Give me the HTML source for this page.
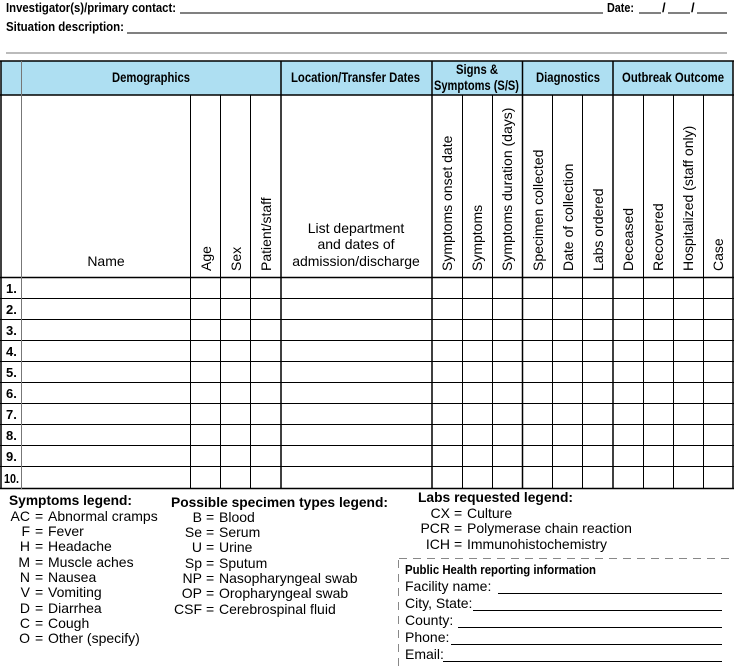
<!DOCTYPE html>
<html><head><meta charset="utf-8"><style>
html,body{margin:0;padding:0;background:#fff;}
svg{display:block;font-family:"Liberation Sans",Arial,sans-serif;}
.b{font-weight:bold;font-size:13px;}
.h{font-weight:bold;font-size:14px;}
.r{font-size:14px;}
.l{font-size:14px;}
.lh{font-weight:bold;font-size:14px;}
</style></head><body>
<svg width="734" height="667" viewBox="0 0 734 667" xmlns="http://www.w3.org/2000/svg">
<!-- top fields -->
<text x="6" y="12" class="b" font-size="14" textLength="170" lengthAdjust="spacingAndGlyphs">Investigator(s)/primary contact:</text>
<line x1="180" y1="13" x2="603" y2="13" stroke="#000" stroke-width="1"/>
<text x="607" y="12" class="b" font-size="14" textLength="27" lengthAdjust="spacingAndGlyphs">Date:</text>
<line x1="639" y1="13" x2="661" y2="13" stroke="#000"/><text x="662" y="12" class="b">/</text>
<line x1="668" y1="13" x2="690" y2="13" stroke="#000"/><text x="691" y="12" class="b">/</text>
<line x1="697" y1="13" x2="727" y2="13" stroke="#000"/>
<text x="6" y="31" class="b" font-size="14" textLength="118" lengthAdjust="spacingAndGlyphs">Situation description:</text>
<line x1="127" y1="33" x2="727" y2="33" stroke="#000"/>
<line x1="6" y1="53" x2="727" y2="53" stroke="#777"/>

<!-- header band -->
<rect x="1" y="61" width="732" height="34" fill="#aedff2"/>
<g class="h">
<text x="112" y="82" textLength="78" lengthAdjust="spacingAndGlyphs">Demographics</text>
<text x="291" y="82" textLength="129" lengthAdjust="spacingAndGlyphs">Location/Transfer Dates</text>
<text x="456" y="74" textLength="42" lengthAdjust="spacingAndGlyphs">Signs &amp;</text>
<text x="434" y="90" textLength="85" lengthAdjust="spacingAndGlyphs">Symptoms (S/S)</text>
<text x="536" y="82" textLength="64" lengthAdjust="spacingAndGlyphs">Diagnostics</text>
<text x="622" y="82" textLength="102" lengthAdjust="spacingAndGlyphs">Outbreak Outcome</text>
</g>

<!-- horizontal lines -->
<g stroke="#000">
<line x1="0" y1="61" x2="734" y2="61" stroke-width="1.5"/>
<line x1="0" y1="95" x2="734" y2="95" stroke-width="1.5"/>
<line x1="0" y1="277.5" x2="734" y2="277.5" stroke-width="1.5"/>
<line x1="0" y1="298.5" x2="734" y2="298.5"/>
<line x1="0" y1="319.5" x2="734" y2="319.5"/>
<line x1="0" y1="340.5" x2="734" y2="340.5"/>
<line x1="0" y1="361.5" x2="734" y2="361.5"/>
<line x1="0" y1="382.5" x2="734" y2="382.5"/>
<line x1="0" y1="403.5" x2="734" y2="403.5"/>
<line x1="0" y1="424.5" x2="734" y2="424.5"/>
<line x1="0" y1="445.5" x2="734" y2="445.5"/>
<line x1="0" y1="466.5" x2="734" y2="466.5"/>
<line x1="0" y1="488.5" x2="734" y2="488.5" stroke-width="1.5"/>
</g>
<!-- vertical lines -->
<g stroke="#000">
<line x1="1" y1="61" x2="1" y2="489" stroke-width="1.5"/>
<line x1="21.5" y1="61" x2="21.5" y2="489" stroke="#777"/>
<line x1="190.5" y1="95" x2="190.5" y2="489"/>
<line x1="220.5" y1="95" x2="220.5" y2="489"/>
<line x1="250.5" y1="95" x2="250.5" y2="489"/>
<line x1="281" y1="61" x2="281" y2="489" stroke-width="1.5"/>
<line x1="432" y1="61" x2="432" y2="489" stroke-width="1.5"/>
<line x1="462.5" y1="95" x2="462.5" y2="489"/>
<line x1="492.5" y1="95" x2="492.5" y2="489"/>
<line x1="522.5" y1="61" x2="522.5" y2="489" stroke-width="1.5"/>
<line x1="552.5" y1="95" x2="552.5" y2="489"/>
<line x1="582.5" y1="95" x2="582.5" y2="489"/>
<line x1="613" y1="61" x2="613" y2="489" stroke-width="1.5"/>
<line x1="643.5" y1="95" x2="643.5" y2="489"/>
<line x1="673.5" y1="95" x2="673.5" y2="489"/>
<line x1="703.5" y1="95" x2="703.5" y2="489"/>
<line x1="733" y1="61" x2="733" y2="489" stroke-width="1.5"/>
</g>

<!-- column header texts -->
<text x="106" y="266" class="r" text-anchor="middle">Name</text>
<g class="r" text-anchor="middle">
<text x="356" y="233">List department</text>
<text x="356" y="249">and dates of</text>
<text x="356" y="266">admission/discharge</text>
</g>
<g class="r">
<text transform="translate(211,271) rotate(-90)">Age</text>
<text transform="translate(241,271) rotate(-90)">Sex</text>
<text transform="translate(271,271) rotate(-90)">Patient/staff</text>
<text transform="translate(452,271) rotate(-90)">Symptoms onset date</text>
<text transform="translate(482,271) rotate(-90)">Symptoms</text>
<text transform="translate(512,271) rotate(-90)">Symptoms duration (days)</text>
<text transform="translate(543,271) rotate(-90)">Specimen collected</text>
<text transform="translate(573,271) rotate(-90)">Date of collection</text>
<text transform="translate(603,271) rotate(-90)">Labs ordered</text>
<text transform="translate(633,271) rotate(-90)">Deceased</text>
<text transform="translate(663,271) rotate(-90)">Recovered</text>
<text transform="translate(693,271) rotate(-90)">Hospitalized (staff only)</text>
<text transform="translate(723,271) rotate(-90)">Case</text>
</g>

<!-- row numbers -->
<g class="b" font-size="13">
<text x="6" y="293">1.</text>
<text x="6" y="314">2.</text>
<text x="6" y="335">3.</text>
<text x="6" y="356">4.</text>
<text x="6" y="377">5.</text>
<text x="6" y="398">6.</text>
<text x="6" y="419">7.</text>
<text x="6" y="440">8.</text>
<text x="6" y="461">9.</text>
<text x="4" y="483" textLength="15" lengthAdjust="spacingAndGlyphs">10.</text>
</g>

<!-- Symptoms legend -->
<text x="9" y="505" class="lh" textLength="123" lengthAdjust="spacingAndGlyphs">Symptoms legend:</text>
<g class="l">
<g text-anchor="end">
<text x="30" y="521">AC</text><text x="30" y="536">F</text><text x="30" y="551">H</text>
<text x="30" y="567">M</text><text x="30" y="582">N</text><text x="30" y="597">V</text>
<text x="30" y="613">D</text><text x="30" y="628">C</text><text x="30" y="643">O</text>
</g>
<text x="35" y="521">=</text><text x="35" y="536">=</text><text x="35" y="551">=</text>
<text x="35" y="567">=</text><text x="35" y="582">=</text><text x="35" y="597">=</text>
<text x="35" y="613">=</text><text x="35" y="628">=</text><text x="35" y="643">=</text>
<text x="48" y="521">Abnormal cramps</text><text x="48" y="536">Fever</text><text x="48" y="551">Headache</text>
<text x="48" y="567">Muscle aches</text><text x="48" y="582">Nausea</text><text x="48" y="597">Vomiting</text>
<text x="48" y="613">Diarrhea</text><text x="48" y="628">Cough</text><text x="48" y="643">Other (specify)</text>
</g>

<!-- Specimen legend -->
<text x="171" y="507" class="lh" textLength="217" lengthAdjust="spacingAndGlyphs">Possible specimen types legend:</text>
<g class="l">
<g text-anchor="end">
<text x="202" y="522">B</text><text x="202" y="537">Se</text><text x="202" y="552">U</text>
<text x="202" y="568">Sp</text><text x="202" y="583">NP</text><text x="202" y="598">OP</text>
<text x="202" y="614">CSF</text>
</g>
<text x="206" y="522">=</text><text x="206" y="537">=</text><text x="206" y="552">=</text>
<text x="206" y="568">=</text><text x="206" y="583">=</text><text x="206" y="598">=</text>
<text x="206" y="614">=</text>
<text x="219" y="522">Blood</text><text x="219" y="537">Serum</text><text x="219" y="552">Urine</text>
<text x="219" y="568">Sputum</text><text x="219" y="583">Nasopharyngeal swab</text><text x="219" y="598">Oropharyngeal swab</text>
<text x="219" y="614">Cerebrospinal fluid</text>
</g>

<!-- Labs legend -->
<text x="418" y="502" class="lh" textLength="155" lengthAdjust="spacingAndGlyphs">Labs requested legend:</text>
<g class="l">
<g text-anchor="end">
<text x="450" y="518">CX</text><text x="450" y="533">PCR</text><text x="450" y="549">ICH</text>
</g>
<text x="454" y="518">=</text><text x="454" y="533">=</text><text x="454" y="549">=</text>
<text x="467" y="518">Culture</text><text x="467" y="533">Polymerase chain reaction</text><text x="467" y="549">Immunohistochemistry</text>
</g>

<!-- Public health box -->
<g stroke="#888" stroke-width="1" stroke-dasharray="8,6">
<line x1="399" y1="558.5" x2="734" y2="558.5"/>
<line x1="398.5" y1="560" x2="398.5" y2="667"/>
</g>
<text x="405" y="574" class="b" font-size="13" textLength="191" lengthAdjust="spacingAndGlyphs">Public Health reporting information</text>
<g class="l">
<text x="405" y="591">Facility name:</text>
<text x="405" y="608">City, State:</text>
<text x="405" y="625">County:</text>
<text x="405" y="642">Phone:</text>
<text x="405" y="659">Email:</text>
</g>
<g stroke="#000">
<line x1="498" y1="593.5" x2="722" y2="593.5"/>
<line x1="473" y1="610.5" x2="722" y2="610.5"/>
<line x1="458" y1="627.5" x2="722" y2="627.5"/>
<line x1="451" y1="644.5" x2="722" y2="644.5"/>
<line x1="443" y1="661.5" x2="722" y2="661.5"/>
</g>
</svg>
</body></html>
